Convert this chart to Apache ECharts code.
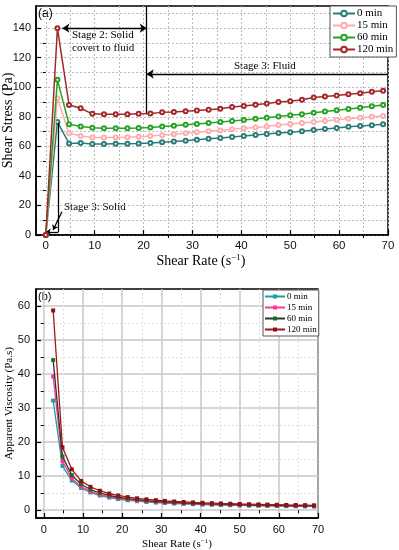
<!DOCTYPE html>
<html><head><meta charset="utf-8">
<script src="https://cdn.jsdelivr.net/npm/echarts@6/dist/echarts.min.js"></script>
<style>html,body{margin:0;padding:0;background:#fff}#c{width:399px;height:550px}</style>
</head><body><div id="c"></div>
<script>
// ---- data ----
const seriesNames = ['0 min', '15 min', '60 min', '120 min'];
const shearRate = [0, 2.38, 4.76, 7.14, 9.52, 11.9, 14.3, 16.7, 19.0, 21.4, 23.8, 26.2, 28.6, 30.9, 33.3, 35.7, 38.1, 40.5, 42.9, 45.2, 47.6, 50.0, 52.4, 54.8, 57.1, 59.5, 61.9, 64.3, 66.7, 69.0];
const stress0 = [0, 76.5, 62, 62.3, 61.6, 61.6, 61.7, 61.8, 62, 62.3, 62.8, 63.3, 63.8, 64.5, 65.1, 65.7, 66.4, 67, 67.7, 68.3, 69, 69.5, 70.2, 71, 71.7, 72.5, 73.2, 73.8, 74.3, 74.9];
const stress15 = [0, 92.5, 68.8, 67, 66, 66, 66, 66.2, 66.5, 67, 67.6, 68.2, 68.8, 69.6, 70.2, 70.8, 71.6, 72.2, 72.8, 73.5, 74.5, 75.1, 75.8, 76.5, 77.2, 78, 78.6, 79.3, 80, 80.5];
const stress60 = [0, 105, 75, 73.5, 72.6, 72.2, 72.2, 72.3, 72.5, 72.8, 73.4, 74, 74.6, 75.2, 75.8, 76.5, 77.2, 77.8, 78.6, 79.3, 80.2, 81, 81.8, 82.8, 83.6, 84.5, 85.3, 86.2, 87.1, 88];
const stress120 = [0, 140, 88, 85.8, 82, 81.7, 81.7, 81.7, 82, 82.3, 83, 83.3, 83.7, 84.2, 84.8, 85.5, 86.6, 87.3, 88.2, 89, 90, 90.5, 91.5, 93, 93.8, 94.5, 95.3, 96, 97, 97.7];

const viscRate = [2.38, 4.76, 7.14, 9.52, 11.9, 14.3, 16.7, 19.0, 21.4, 23.8, 26.2, 28.6, 30.9, 33.3, 35.7, 38.1, 40.5, 42.9, 45.2, 47.6, 50.0, 52.4, 54.8, 57.1, 59.5, 61.9, 64.3, 66.7, 69.0];
const visc0 = [32.2, 13.0, 8.7, 6.5, 5.2, 4.3, 3.7, 3.26, 2.9, 2.64, 2.42, 2.23, 2.09, 1.95, 1.84, 1.74, 1.65, 1.58, 1.51, 1.45, 1.39, 1.34, 1.30, 1.26, 1.22, 1.18, 1.15, 1.11, 1.09];
const visc15 = [39.3, 14.45, 9.4, 6.9, 5.55, 4.6, 3.96, 3.5, 3.13, 2.84, 2.6, 2.41, 2.25, 2.11, 1.98, 1.88, 1.78, 1.7, 1.63, 1.57, 1.50, 1.45, 1.40, 1.35, 1.31, 1.27, 1.23, 1.20, 1.17];
const visc60 = [44.1, 15.75, 10.3, 7.63, 6.07, 5.05, 4.33, 3.8, 3.4, 3.08, 2.82, 2.61, 2.43, 2.28, 2.14, 2.03, 1.92, 1.83, 1.75, 1.69, 1.62, 1.56, 1.51, 1.46, 1.42, 1.38, 1.34, 1.31, 1.28];
const visc120 = [58.7, 18.5, 12.0, 8.6, 6.87, 5.71, 4.89, 4.32, 3.84, 3.49, 3.18, 2.93, 2.72, 2.55, 2.40, 2.27, 2.16, 2.06, 1.97, 1.89, 1.81, 1.75, 1.70, 1.64, 1.59, 1.54, 1.50, 1.46, 1.42];

const xMajorTicks = [0, 10, 20, 30, 40, 50, 60, 70];
const xMinorTicks = [5, 15, 25, 35, 45, 55, 65];
const stressMajorTicks = [0, 20, 40, 60, 80, 100, 120, 140];
const stressMinorTicks = [10, 30, 50, 70, 90, 110, 130, 150];
const viscMajorTicks = [0, 10, 20, 30, 40, 50, 60];
const viscMinorTicks = [5, 15, 25, 35, 45, 55];

// ---- helpers ----
const pairs = (xs, ys) => xs.map((x, i) => [x, ys[i]]);
const SERIF = '"Liberation Serif", "Times New Roman", serif';
const SANS = '"Liberation Sans", Arial, sans-serif';

function majorAxis(gridIndex, min, max, ticks, opts) {
  return Object.assign({
    type: 'value', gridIndex, min, max, nameMoveOverlap: false,
    axisLine: { show: true, onZero: false, lineStyle: { color: '#000', width: 1.5 } },
    axisTick: { show: true, inside: true, length: 5, customValues: ticks, lineStyle: { color: '#000', width: 1.2 } },
    axisLabel: { customValues: ticks, fontFamily: SANS, fontSize: 11.5, color: '#111', margin: 5 },
    splitLine: { show: true, lineStyle: { color: '#bbb', type: [2, 2], width: 1 } },
    minorTick: { show: false }
  }, opts || {});
}
function minorAxis(gridIndex, min, max, ticks, splitStyle) {
  return {
    type: 'value', gridIndex, min, max,
    axisLine: { show: false },
    axisTick: { show: true, inside: true, length: 3, customValues: ticks, lineStyle: { color: '#000', width: 1 } },
    axisLabel: { show: false, customValues: ticks },
    splitLine: { show: true, lineStyle: splitStyle }
  };
}

const topColors = ['#2b7c79', '#ffadad', '#24a324', '#a3282b'];
const stressSets = [stress0, stress15, stress60, stress120];
const botLine = ['#1e9e9e', '#ff3399', '#333333', '#a01818'];
const botMark = ['#1e9e9e', '#ff3399', '#1f6e1f', '#8e1010'];
const viscSets = [visc0, visc15, visc60, visc120];

const series = [];
stressSets.forEach((s, i) => {
  series.push({
    name: seriesNames[i], type: 'line', xAxisIndex: 0, yAxisIndex: 0,
    data: pairs(shearRate, s),
    symbol: 'emptyCircle', symbolSize: 4, showAllSymbol: true,
    color: topColors[i],
    lineStyle: { color: topColors[i], width: 1.5 },
    itemStyle: { color: topColors[i], borderWidth: 0.8 },
    z: 3 + i
  });
});
viscSets.forEach((s, i) => {
  series.push({
    name: 'v' + i, type: 'line', xAxisIndex: 2, yAxisIndex: 2,
    data: pairs(viscRate, s),
    symbol: 'rect', symbolSize: 4, showAllSymbol: true,
    color: botMark[i],
    lineStyle: { color: botLine[i], width: 1.3 },
    itemStyle: { color: botMark[i] },
    z: 3 + i
  });
});
// annotation arrows (top chart)
const arrowLine = { color: '#000', width: 1.3, type: 'solid' };
series.push({
  type: 'line', xAxisIndex: 0, yAxisIndex: 0, data: [], silent: true, z: 10,
  markLine: {
    silent: true, animation: false, symbolSize: 7, precision: 3,
    label: { show: false }, lineStyle: arrowLine, emphasis: { disabled: true },
    data: [
      [{ coord: [3.4, 140], symbol: 'arrow' }, { coord: [20.65, 140], symbol: 'arrow' }],
      [{ coord: [20.65, 155], symbol: 'none' }, { coord: [20.65, 81.7], symbol: 'none' }],
      [{ coord: [20.65, 109], symbol: 'arrow' }, { coord: [70, 109], symbol: 'none' }],
      [{ coord: [2.58, 76], symbol: 'none' }, { coord: [2.58, 2.1], symbol: 'none' }],
      [{ coord: [0, 2.1], symbol: 'arrow', symbolSize: 5 }, { coord: [2.58, 2.1], symbol: 'none' }],
      [{ coord: [3.3, 15.7], symbol: 'none' }, { coord: [1.5, 3.4], symbol: 'arrow', symbolSize: 5 }]
    ]
  }
});

const legendBase = {
  orient: 'vertical', backgroundColor: '#fff',
  borderColor: '#555', borderWidth: 1, borderRadius: 0
};

const option = {
  animation: false,
  backgroundColor: '#fff',
  grid: [
    { left: 36, top: 6, width: 352, height: 229, show: true, borderColor: '#000', borderWidth: 1.5, backgroundColor: 'transparent', outerBoundsMode: 'none', containLabel: false },
    { left: 36, top: 289, width: 282, height: 229, show: true, borderColor: '#000', borderWidth: 1.5, backgroundColor: 'transparent', outerBoundsMode: 'none', containLabel: false }
  ],
  xAxis: [
    majorAxis(0, -2, 70, xMajorTicks, {
      name: 'Shear Rate (s{sup|\u22121})', nameLocation: 'middle', nameGap: 18,
      nameTextStyle: { fontFamily: SERIF, fontSize: 14, color: '#000', padding: [0, 22, 0, 0], rich: { sup: { fontFamily: SERIF, fontSize: 9, verticalAlign: 'top', padding: [0, 0, 8, 0] } } }
    }),
    minorAxis(0, -2, 70, xMinorTicks, { color: '#bbb', type: [2, 2], width: 1 }),
    majorAxis(1, -2, 70, xMajorTicks, {
      axisLabel: { customValues: xMajorTicks, fontFamily: SANS, fontSize: 11, color: '#111', margin: 6 },
      splitLine: { show: true, lineStyle: { color: '#c8c8c8', width: 1.5 } },
      name: 'Shear Rate (s{sup|\u22121})', nameLocation: 'middle', nameGap: 20,
      nameTextStyle: { fontFamily: SERIF, fontSize: 11, color: '#000', rich: { sup: { fontFamily: SERIF, fontSize: 7, verticalAlign: 'top', padding: [0, 0, 6, 0] } } }
    }),
    minorAxis(1, -2, 70, xMinorTicks, { color: '#e0e0e0', type: [2, 2], width: 1 })
  ],
  yAxis: [
    majorAxis(0, 0, 155, stressMajorTicks, {
      axisLabel: { customValues: stressMajorTicks, fontFamily: SANS, fontSize: 11, color: '#111', margin: 5 },
      name: 'Shear Stress (Pa)', nameLocation: 'middle', nameGap: 21,
      nameTextStyle: { fontFamily: SERIF, fontSize: 14, color: '#000' }
    }),
    minorAxis(0, 0, 155, stressMinorTicks, { color: '#bbb', type: [2, 2], width: 1 }),
    majorAxis(1, -2.3, 65, viscMajorTicks, {
      axisLabel: { customValues: viscMajorTicks, fontFamily: SANS, fontSize: 11, color: '#111', margin: 6 },
      splitLine: { show: true, lineStyle: { color: '#c8c8c8', width: 1.5 } },
      name: 'Apparent Viscosity (Pa.s)', nameLocation: 'middle', nameGap: 21,
      nameTextStyle: { fontFamily: SERIF, fontSize: 11, color: '#000' }
    }),
    minorAxis(1, -2.3, 65, viscMinorTicks, { color: '#e0e0e0', type: [2, 2], width: 1 })
  ],
  legend: [
    Object.assign({}, legendBase, {
      data: seriesNames, left: 330, top: 6,
      itemWidth: 22, itemHeight: 7, itemGap: 1, padding: [2, 3, 2, 2],
      textStyle: { fontFamily: SERIF, fontSize: 11, color: '#000', padding: [0, 0, 0, -3] }
    }),
    Object.assign({}, legendBase, {
      data: ['v0', 'v1', 'v2', 'v3'], left: 263, top: 290,
      itemWidth: 20, itemHeight: 5, itemGap: 2, padding: [2, 2, 2, 1],
      formatter: n => seriesNames[+n.slice(1)],
      textStyle: { fontFamily: SERIF, fontSize: 9, color: '#000', padding: [0, 0, 0, -3] }
    })
  ],
  graphic: [
    { type: 'text', left: 38, top: 8, style: { text: '(a)', font: '12px ' + SANS, fill: '#000' } },
    { type: 'text', left: 38, top: 291, style: { text: '(b)', font: '11px ' + SANS, fill: '#000' } },
    { type: 'text', left: 72, top: 29, style: { text: 'Stage 2: Solid\ncovert to fluid', font: '11px ' + SERIF, fill: '#000', lineHeight: 13 } },
    { type: 'text', left: 234, top: 61, style: { text: 'Stage 3: Fluid', font: '11px ' + SERIF, fill: '#000' } },
    { type: 'text', left: 64, top: 202, style: { text: 'Stage 3: Solid', font: '11px ' + SERIF, fill: '#000' } }
  ],
  series
};
const chart = echarts.init(document.getElementById('c'), null, { renderer: 'canvas' });
chart.setOption(option);
</script></body></html>
